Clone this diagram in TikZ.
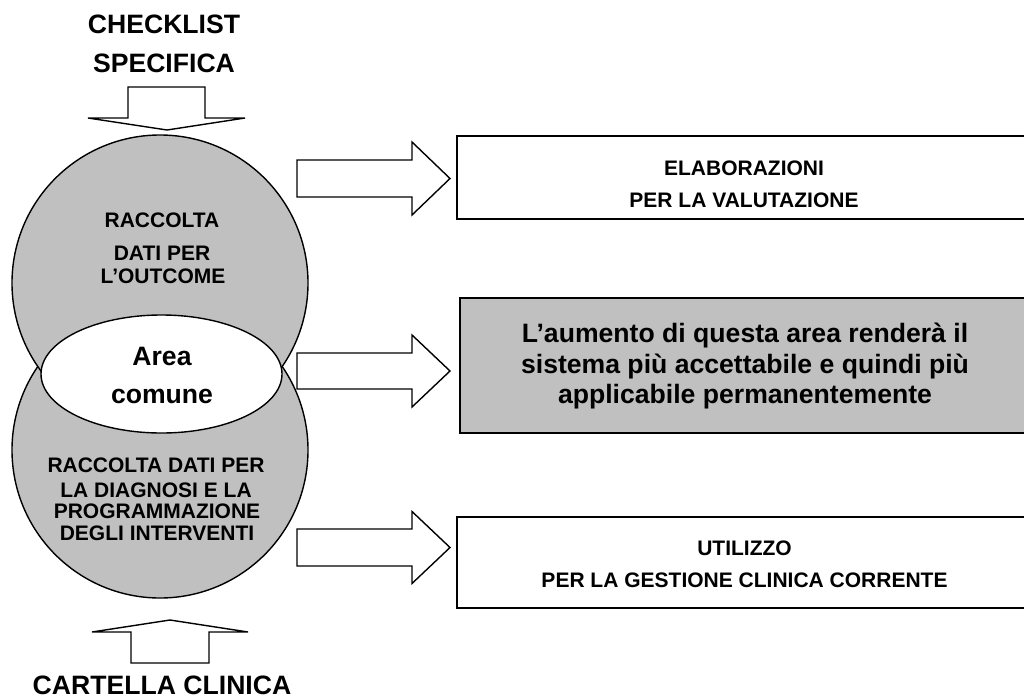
\documentclass[tikz,border=0pt]{standalone}
\usepackage{fontspec}
\setmainfont{Liberation Sans}
\usetikzlibrary{shapes.geometric}
\definecolor{boxgrey}{RGB}{192,192,192}
\begin{document}
\begin{tikzpicture}[x=1pt,y=-1pt,
  outl/.style={draw=black, line width=1.4pt, line join=miter},
  blockarrow/.style={outl, fill=white},
  lbl/.style={anchor=base, inner sep=0pt, font=\bfseries\fontsize{21}{21}\selectfont},
  big/.style={anchor=base, inner sep=0pt, font=\bfseries\fontsize{26.6}{27}\selectfont}]
\useasboundingbox (0,0) rectangle (1024,699);
\clip (0,0) rectangle (1024,699);
\fill[white] (0,0) rectangle (1024,699);

% circles
\node[circle, outl, fill=boxgrey, minimum size=296pt, inner sep=0pt] (lowc) at (160,450) {};
\node[circle, outl, fill=boxgrey, minimum size=296pt, inner sep=0pt] (upc) at (160,283) {};
\node[ellipse, outl, fill=white, minimum width=241pt, minimum height=118pt, inner sep=0pt] (area) at (161.5,374) {};

% top and bottom block arrows
\coordinate (ta) at (167,130);
\draw[blockarrow] (128,87) -- (205,87) -- (205,118) -- (245,118) -- (ta) -- (88,118) -- (128,118) -- cycle;
\coordinate (ba) at (170,620);
\draw[blockarrow] (131,663) -- (209,663) -- (209,632) -- (248,632) -- (ba) -- (92,632) -- (131,632) -- cycle;

% right block arrows
\coordinate (a1) at (450,178.5);
\draw[blockarrow] (297,160) -- (412,160) -- (412,142) -- (a1) -- (412,215) -- (412,197) -- (297,197) -- cycle;
\coordinate (a2) at (450,371);
\draw[blockarrow] (297,353) -- (412,353) -- (412,335) -- (a2) -- (412,407) -- (412,389) -- (297,389) -- cycle;
\coordinate (a3) at (450,547.5);
\draw[blockarrow] (297,529) -- (412,529) -- (412,511.5) -- (a3) -- (412,583.5) -- (412,566) -- (297,566) -- cycle;

% boxes
\draw[outl, fill=white] (457,136) rectangle (1040,219);
\draw[outl, fill=boxgrey] (460,298) rectangle (1040,433);
\draw[outl, fill=white] (457,517) rectangle (1040,608);

% titles
\node[big] (t1) at (164,33) {CHECKLIST};
\node[big] (t2) at (164,72) {SPECIFICA};
\node[big] (t3) at (162,694) {CARTELLA CLINICA};

% upper circle text
\node[lbl] (u1) at (162,227) {RACCOLTA};
\node[lbl] (u2) at (162,260) {DATI PER};
\node[lbl] (u3) at (163,283) {L’OUTCOME};

% common area
\node[big] (c1) at (162,365) {Area};
\node[big] (c2) at (162,403) {comune};

% lower circle text
\node[lbl] (l1) at (156,472) {RACCOLTA DATI PER};
\node[lbl] (l2) at (156,497) {LA DIAGNOSI E LA};
\node[lbl] (l3) at (157,518) {PROGRAMMAZIONE};
\node[lbl] (l4) at (157,540) {DEGLI INTERVENTI};

% box texts
\node[lbl] (b1a) at (744,175) {ELABORAZIONI};
\node[lbl] (b1b) at (744,207) {PER LA VALUTAZIONE};
\node[big] (b2a) at (745,342) {L’aumento di questa area renderà il};
\node[big] (b2b) at (745,373) {sistema più accettabile e quindi più};
\node[big] (b2c) at (745,403) {applicabile permanentemente};
\node[lbl] (b3a) at (744.5,555) {UTILIZZO};
\node[lbl] (b3b) at (744.5,587) {PER LA GESTIONE CLINICA CORRENTE};
\end{tikzpicture}
\end{document}
